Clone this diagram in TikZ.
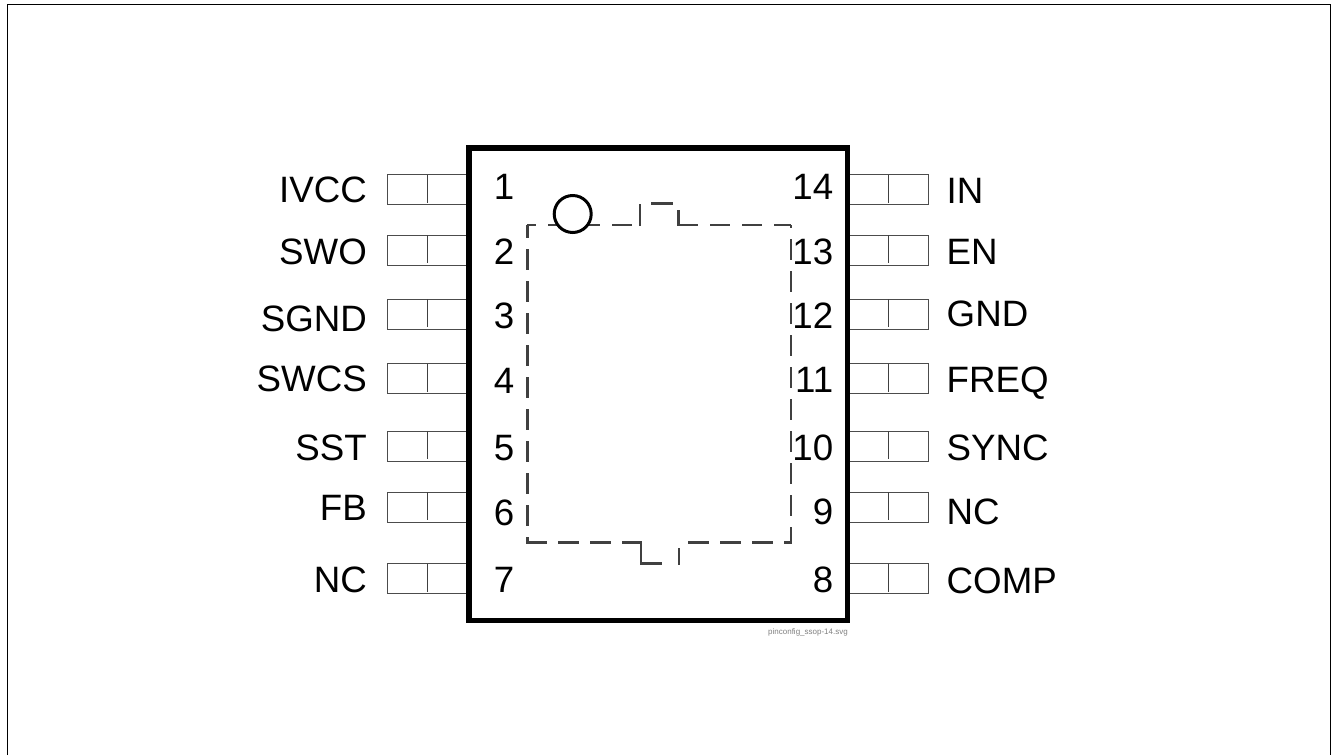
\documentclass[tikz,border=0pt]{standalone}
\usepackage{fontspec}
\setmainfont{Liberation Sans}
\tikzset{
  x=1pt,y=-1pt,
  pinbox/.style={draw=black!70,line width=1.1pt,minimum width=80pt,minimum height=30pt,inner sep=0pt,outer sep=0pt},
  pindiv/.style={black!75,line width=1pt},
  pinlabel/.style={inner sep=0pt,font=\fontsize{36.7}{37}\selectfont,text=black},
  pinnum/.style={inner sep=0pt,font=\fontsize{36.7}{37}\selectfont,text=black},
  pkgline/.style={black!75,line width=2.4pt,dash pattern=on 21pt off 11pt},
  tabline/.style={black!75,line width=2.2pt},
}
\begin{document}
\begin{tikzpicture}
\useasboundingbox (0,0) rectangle (1332,755);
\fill[white] (0,0) rectangle (1332,755);
\coordinate (fa) at (7.3,755); \coordinate (fb) at (7.3,4.3); \coordinate (fc) at (1330,4.3); \coordinate (fd) at (1330,755);
\draw[line width=1pt] (fa) -- (fb) -- (fc) -- (fd);
\foreach \n/\y/\b/\nb/\t in {1/189.5/202.8/199.5/IVCC,2/250.4/264/264/SWO,3/314.3/331.4/328.3/SGND,4/378.7/391.8/393/SWCS,5/446.3/460.7/460/SST,6/507.3/520/525/FB,7/578.7/592.7/592.7/NC}{
  \node[pinbox] (L\n) at (427.7,\y) {};
  \draw[pindiv] (L\n.north) -- ++(0,28);
  \node[pinlabel,anchor=base east] (LT\n) at (367,\b) {\t};
  \node[pinnum,anchor=base] (LN\n) at (504,\nb) {\n};
}
\foreach \n/\y/\b/\nb/\t in {14/189.5/203/199.5/IN,13/250.4/264/264/EN,12/314.3/326.7/328.3/GND,11/378.7/392/392.3/FREQ,10/446.3/460.5/460/SYNC,9/507.3/524/524/NC,8/578.7/593/592.7/COMP}{
  \node[pinbox] (R\n) at (888.3,\y) {};
  \draw[pindiv] (R\n.north) -- ++(0,28);
  \node[pinlabel,anchor=base west] (RT\n) at (946.5,\b) {\t};
  \node[pinnum,anchor=base east] (RN\n) at (833.5,\nb) {\n};
}
\node[draw=black,line width=5.5pt,minimum width=378.5pt,minimum height=472.3pt,inner sep=0pt,outer sep=0pt] (chip) at (658.25,384.15) {};
% package outline: left side and top-left run
\draw[pkgline,dash phase=8pt] (527.3,225) -- (527.3,542);
\draw[pkgline,dash pattern=on 20pt off 12pt,dash phase=11pt] (527.3,225) -- (640,225);
% top notch
\draw[tabline] (640,226) -- (640,203.5);
\draw[tabline] (651,203.5) -- (673,203.5);
\draw[tabline] (678.5,210) -- (678.5,226);
% top-right run and right side
\draw[pkgline,dash pattern=on 20pt off 12pt] (678,225) -- (791,225);
\draw[pkgline,dash phase=18pt] (790.8,225) -- (790.8,542.3);
% bottom runs
\draw[pkgline] (688,542.3) -- (791.9,542.3);
\draw[pkgline] (526.2,542.3) -- (640,542.3);
% bottom notch
\draw[tabline] (640.7,541) -- (640.7,563.5) -- (662,563.5);
\draw[tabline] (679,548) -- (679,564.6);
\node[draw=black,fill=white,line width=3pt,circle,minimum size=37pt,inner sep=0pt] (dot) at (572.7,214) {};
\node[inner sep=0pt,text=black!50,font=\fontsize{8}{8}\selectfont,anchor=base east] (fn) at (848,634) {pinconfig\_ssop-14.svg};
\end{tikzpicture}
\end{document}
